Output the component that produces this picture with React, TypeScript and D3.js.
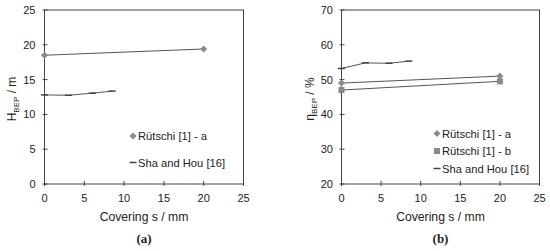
import React from "react";
import * as d3 from "d3";

const coveringA = [0, 20];
const headA = [18.5, 19.4];
const coveringSha = [0, 3, 6, 8.5];
const headSha = [12.8, 12.75, 13.05, 13.35];
const etaA = [49, 51];
const etaB = [47, 49.5];
const etaSha = [53.2, 54.8, 54.7, 55.3];
const xTicks = [0, 5, 10, 15, 20, 25];
const hTicks = [0, 5, 10, 15, 20, 25];
const etaTicks = [20, 30, 40, 50, 60, 70];

const FONT = "Liberation Sans, Arial, sans-serif";
const LINE = "#555";
const MARK = "#8a8a8a";

type Series = { xs: number[]; ys: number[]; marker: "diamond" | "square" | "dash"; label: string };

function Marker({ kind, x, y }: { kind: string; x: number; y: number }) {
  if (kind === "diamond")
    return <path d={`M${x},${y - 3.5}L${x + 3.5},${y}L${x},${y + 3.5}L${x - 3.5},${y}Z`} fill={MARK} />;
  if (kind === "square") return <rect x={x - 3} y={y - 3} width={6} height={6} fill={MARK} />;
  return <line x1={x - 3.5} x2={x + 3.5} y1={y} y2={y} stroke="#444" strokeWidth={1.5} />;
}

function Panel({
  left, right, yDomain, yTicks, series, yLabelMain, yLabelSub, yLabelUnit, caption, legendX, legendY, legendGap, tickGap, yLabelX,
}: {
  left: number; right: number; yDomain: [number, number]; yTicks: number[]; series: Series[];
  yLabelMain: string; yLabelSub: string; yLabelUnit: string; caption: string;
  legendX: number; legendY: number; legendGap: number; tickGap: number; yLabelX: number;
}) {
  const top = 10, bottom = 184;
  const x = d3.scaleLinear().domain([0, 25]).range([left, right]);
  const y = d3.scaleLinear().domain(yDomain).range([bottom, top]);
  const line = d3.line<[number, number]>().x((d) => x(d[0])).y((d) => y(d[1]));
  const cx = (left + right) / 2;
  return (
    <g fontFamily={FONT} fill="#222">
      <rect x={left} y={top} width={right - left} height={bottom - top} fill="none" stroke="#444" strokeWidth={1} />
      {xTicks.map((t) => (
        <g key={"x" + t}>
          <line x1={x(t)} x2={x(t)} y1={bottom - 3} y2={bottom + 2} stroke="#444" />
          <text x={x(t)} y={bottom + 18} textAnchor="middle" fontSize={11}>{t}</text>
        </g>
      ))}
      {yTicks.map((t) => (
        <g key={"y" + t}>
          <line x1={left - 2} x2={left + 3} y1={y(t)} y2={y(t)} stroke="#444" />
          <text x={left - tickGap} y={y(t) + 4} textAnchor="end" fontSize={11}>{t}</text>
        </g>
      ))}
      {series.map((s, i) => (
        <g key={"s" + i}>
          <path d={line(s.xs.map((v, j) => [v, s.ys[j]]) as [number, number][]) || ""} fill="none" stroke={LINE} strokeWidth={1} />
          {s.xs.map((v, j) => (
            <Marker key={j} kind={s.marker} x={x(v)} y={y(s.ys[j])} />
          ))}
        </g>
      ))}
      {series.map((s, i) => (
        <g key={"l" + i}>
          <Marker kind={s.marker} x={legendX} y={legendY + i * legendGap} />
          <text x={legendX + 5} y={legendY + i * legendGap + 4} fontSize={11.2}>{s.label}</text>
        </g>
      ))}
      <text x={cx} y={221} textAnchor="middle" fontSize={12.2}>Covering s / mm</text>
      <text transform={`translate(${yLabelX},${(top + bottom) / 2 + 2}) rotate(-90)`} textAnchor="middle" fontSize={12}>
        {yLabelMain}
        <tspan fontSize={8} dy={3}>{yLabelSub}</tspan>
        <tspan dy={-3}>{" / " + yLabelUnit}</tspan>
      </text>
      <text x={cx} y={242.5} textAnchor="middle" fontSize={13} fontWeight="bold" fontFamily="Liberation Serif, serif">{caption}</text>
    </g>
  );
}

export default function App() {
  return (
    <svg width={550} height={251} style={{ display: "block", position: "absolute", left: 0, top: 0 }}>
      <rect width={550} height={251} fill="#fff" />
      <Panel
        left={44.5} right={243.5} yDomain={[0, 25]} yTicks={hTicks}
        series={[
          { xs: coveringA, ys: headA, marker: "diamond", label: "Rütschi [1] - a" },
          { xs: coveringSha, ys: headSha, marker: "dash", label: "Sha and Hou [16]" },
        ]}
        yLabelMain="H" yLabelSub="BEP" yLabelUnit="m" caption="(a)"
        legendX={133} legendY={136} legendGap={26.5} tickGap={9} yLabelX={15.5}
      />
      <Panel
        left={341.5} right={539.5} yDomain={[20, 70]} yTicks={etaTicks}
        series={[
          { xs: coveringA, ys: etaA, marker: "diamond", label: "Rütschi [1] - a" },
          { xs: coveringA, ys: etaB, marker: "square", label: "Rütschi [1] - b" },
          { xs: coveringSha, ys: etaSha, marker: "dash", label: "Sha and Hou [16]" },
        ]}
        yLabelMain="η" yLabelSub="BEP" yLabelUnit="%" caption="(b)"
        legendX={437} legendY={133.5} legendGap={17.5} tickGap={8.5} yLabelX={314}
      />
    </svg>
  );
}
